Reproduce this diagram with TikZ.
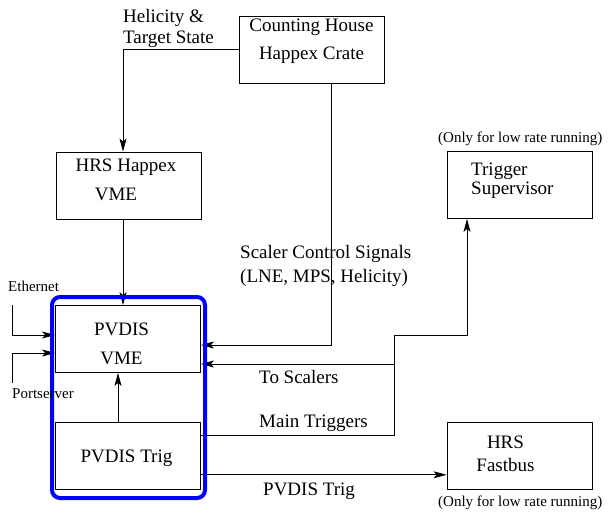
\documentclass[tikz,border=0pt]{standalone}
\usepackage{fontspec}
\setmainfont{Liberation Serif}
\usetikzlibrary{arrows.meta,positioning}

\begin{document}
\begin{tikzpicture}[x=1pt, y=-1pt, auto]
        % Define block styles
        \tikzstyle{block} = [rectangle, draw, line width=0.8pt, minimum width=145pt, minimum height=67pt, inner sep=0pt]
        \tikzstyle{boxtext} = [inner sep=0pt, align=center, font=\fontsize{19}{23}\selectfont]
        \tikzstyle{note} = [inner sep=0pt, align=left, font=\fontsize{19}{23}\selectfont]
        \tikzstyle{smallnote} = [inner sep=0pt, font=\fontsize{15}{18}\selectfont]
        \tikzstyle{wire} = [draw, line width=0.8pt]
        \tikzstyle{line} = [draw, line width=0.8pt, -{Stealth[length=13pt, width=7pt, inset=3pt]}]
        \tikzstyle{crate} = [draw=blue, line width=4pt, rounded corners=8pt]

        \useasboundingbox (0,0) rectangle (608,512);

        % Nodes
        \node [block] (counting) at (311.5,49.5) {};
        \node [block] (happex) at (128.5,185.5) {};
        \node [block] (vme) at (128,339) {};
        \node [block, below=49pt of vme] (trig) {};
        \node [block] (trigsup) at (519.5,185) {};
        \node [block, below=203pt of trigsup] (fastbus) {};

        \node [boxtext] (countingtext) at ([yshift=8pt]counting.center) {Counting House\\[5pt]Happex Crate};
        \node [boxtext] (happextext) at ([xshift=-2.5pt, yshift=6pt]happex.center) {HRS Happex\\[6pt]VME\hspace*{20pt}};
        \node [boxtext] (vmetext) at ([xshift=-6.5pt, yshift=-4.5pt]vme.center) {PVDIS\\[6pt]VME};
        \node [boxtext] (trigtext) at ([xshift=-1.5pt, yshift=-2pt]trig.center) {PVDIS Trig};
        \node [note, anchor=west] (trigsuptext) at ([xshift=-48.5pt, yshift=4pt]trigsup.center) {Trigger\\[-4pt]Supervisor};
        \node [boxtext] (fastbustext) at ([xshift=-14pt, yshift=2.5pt]fastbus.center) {HRS\\Fastbus};

        \coordinate (split) at (394,335);
        \coordinate (tap) at (394,364);
        \coordinate (ethin) at (12,305);
        \coordinate (portin) at (12,383);

        % Arrows
        \path [line] (counting.west) -| ([xshift=-5.5pt]happex.north);
        \path [line] ([xshift=19.5pt]counting.south) |- ([yshift=-6pt]vme.east);
        \path [line] ([xshift=-5.5pt]happex.south) -- ([xshift=-5pt]vme.north);
        \path [line] ([xshift=-10pt]trig.north) -- ([xshift=-10pt]vme.south);
        \path [line] ([yshift=20pt]trig.east) -| (split) -| ([xshift=-52.5pt]trigsup.south);
        \path [line] (tap) -- (vme.east |- tap);
        \path [line] ([yshift=-19pt]trig.east) -- ([yshift=-19pt]trig.east -| fastbus.west);
        \path [line] (ethin) |- ([yshift=4pt]vme.west);
        \path [line] (portin) |- ([yshift=-14pt]vme.west);

        % Blue frame round the PVDIS crate
        \draw [crate] (52,297) rectangle (205,498);

        % Text labels
        \node [note, anchor=north west] (helicity) at (123,9) {Helicity \&\\[-2pt]Target State};
        \node [note, anchor=north west] (scaler) at (240,245) {Scaler Control Signals\\[1pt](LNE, MPS, Helicity)};
        \node [note, anchor=base west] (toscalers) at (259,383) {To Scalers};
        \node [note, anchor=base west] (maintrig) at (259,427) {Main Triggers};
        \node [note, anchor=base west] (pvdistrig) at (263,495) {PVDIS Trig};
        \node [smallnote, anchor=base west] (ethernet) at (8,291) {Ethernet};
        \node [smallnote, anchor=base west] (portserver) at (12,398) {Portserver};
        \node [smallnote, anchor=base west] (onlytop) at (438,142) {(Only for low rate running)};
        \node [smallnote, anchor=base west] (onlybottom) at (438,506) {(Only for low rate running)};

    \end{tikzpicture}
\end{document}
